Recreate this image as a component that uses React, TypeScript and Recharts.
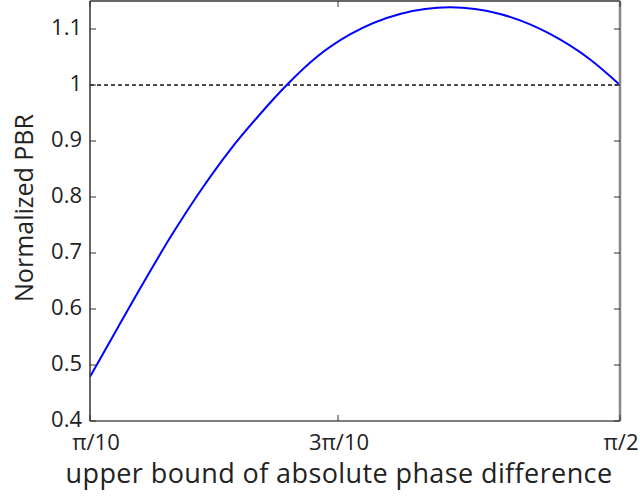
import { LineChart, Line, XAxis, YAxis, ReferenceLine } from 'recharts';

// x values in radians
const phaseBound = [
  0.3142, 0.3813, 0.4446, 0.5079, 0.5828, 0.6461, 0.7094, 0.7806,
  0.8517, 0.9306, 1.0492, 1.1677, 1.2863, 1.4048, 1.5, 1.5708,
];
const normalizedPBR = [
  0.479, 0.5684, 0.6518, 0.732, 0.8184, 0.8839, 0.9411, 1.0,
  1.05, 1.0902, 1.1268, 1.1387, 1.1268, 1.0911, 1.0455, 1.0,
];

const xTicks = [Math.PI / 10, 0.9022, Math.PI / 2];
const xTickLabels = ['π/10', '3π/10', 'π/2'];
const yTicks = [0.4, 0.5, 0.6, 0.7, 0.8, 0.9, 1, 1.1];

const data = phaseBound.map((x, i) => ({ x, pbr: normalizedPBR[i] }));

const FONT = '"Open Sans", "Noto Sans", sans-serif';

const xLabelFor = (v: number) => {
  const i = xTicks.findIndex(t => Math.abs(t - v) < 1e-6);
  return i >= 0 ? xTickLabels[i] : '';
};

const BottomTick = ({ x, y, payload }: any) => (
  <g>
    <line x1={x} y1={y} x2={x} y2={y - 6} stroke="#333" />
    <text x={x + (payload.value < 0.5 ? 6 : 1)} y={y + 29} textAnchor="middle" fontSize={22} fill="#222" fontFamily={FONT}>
      {xLabelFor(payload.value)}
    </text>
  </g>
);

const TopTick = ({ x, y }: any) => (
  <line x1={x} y1={y} x2={x} y2={y + 6} stroke="#333" />
);

const LeftTick = ({ x, y, payload }: any) => (
  <g>
    <line x1={x} y1={y} x2={x + 6} y2={y} stroke="#333" />
    <text x={x - 8} y={y + 6} textAnchor="end" fontSize={22} fill="#222" fontFamily={FONT}>
      {String(payload.value)}
    </text>
  </g>
);

const RightTick = ({ x, y }: any) => (
  <line x1={x} y1={y} x2={x - 6} y2={y} stroke="#333" />
);

export default function App() {
  return (
    <div style={{ position: 'absolute', left: 0, top: 0, width: 640, height: 496, background: '#fff' }}>
      <LineChart width={640} height={496} data={data} margin={{ top: 0, right: 19, bottom: 74, left: 89 }}>
        <XAxis
          dataKey="x"
          type="number"
          domain={[Math.PI / 10, Math.PI / 2]}
          allowDataOverflow
          ticks={xTicks}
          interval={0}
          tickSize={0}
          tickMargin={0}
          tick={<BottomTick />}
          axisLine={{ stroke: '#555', strokeWidth: 1.5 }}
          height={1}
        />
        <XAxis
          xAxisId="top"
          orientation="top"
          dataKey="x"
          type="number"
          domain={[Math.PI / 10, Math.PI / 2]}
          allowDataOverflow
          ticks={xTicks}
          interval={0}
          tickSize={0}
          tickMargin={0}
          tick={<TopTick />}
          axisLine={{ stroke: '#333', strokeWidth: 1.5 }}
          height={1}
        />
        <YAxis
          type="number"
          domain={[0.4, 1.15]}
          allowDataOverflow
          ticks={yTicks}
          interval={0}
          tickSize={0}
          tickMargin={0}
          tick={<LeftTick />}
          axisLine={{ stroke: '#333', strokeWidth: 1.5 }}
          width={1}
        />
        <YAxis
          yAxisId="right"
          orientation="right"
          type="number"
          domain={[0.4, 1.15]}
          allowDataOverflow
          ticks={yTicks}
          interval={0}
          tickSize={0}
          tickMargin={0}
          tick={<RightTick />}
          axisLine={{ stroke: '#888', strokeWidth: 2.5 }}
          width={1}
        />
        <ReferenceLine y={1} stroke="#111" strokeWidth={1.5} strokeDasharray="4 3" />
        <Line
          type="monotone"
          dataKey="pbr"
          stroke="#0000ff"
          strokeWidth={2}
          dot={false}
          isAnimationActive={false}
        />
      </LineChart>
      <div
        style={{
          position: 'absolute', left: 0, top: 459, width: 678, textAlign: 'center',
          fontFamily: FONT, fontSize: 27, lineHeight: 1, letterSpacing: 0.4, color: '#222',
        }}
      >
        upper bound of absolute phase difference
      </div>
      <div
        style={{
          position: 'absolute', left: 23, top: 208, transform: 'translate(-50%, -50%) rotate(-90deg)',
          whiteSpace: 'nowrap', fontFamily: FONT, fontSize: 25, lineHeight: 1, color: '#222',
        }}
      >
        Normalized PBR
      </div>
    </div>
  );
}
